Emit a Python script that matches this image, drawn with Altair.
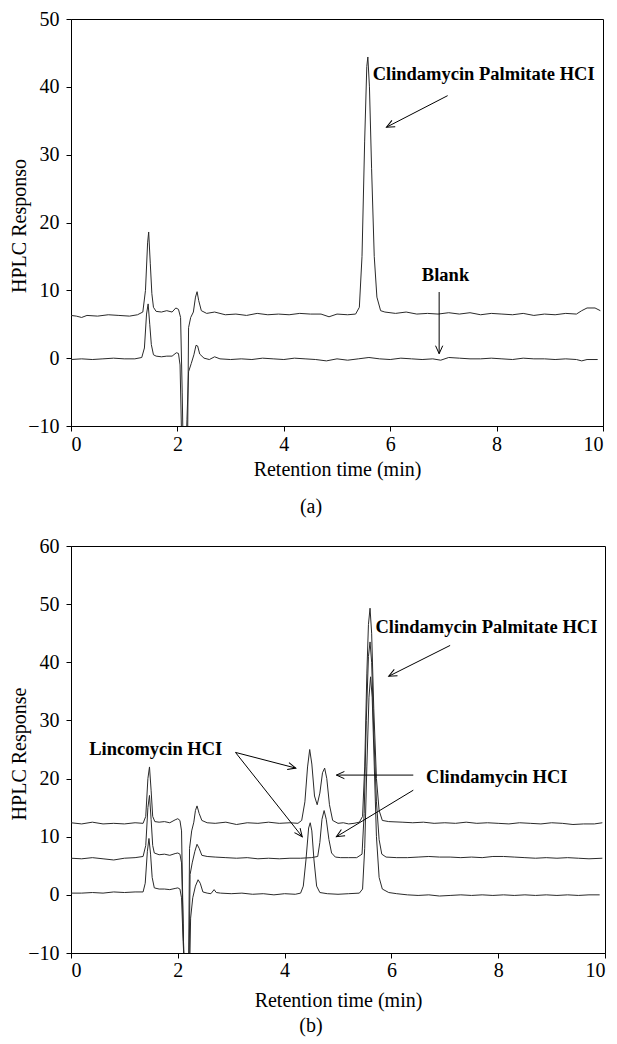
import math
import altair as alt
import pandas as pd

# ---------------- Panel (a) data ----------------
a_sample_x = [0.0, 0.1, 0.2, 0.3, 0.5, 0.7, 0.9, 1.1, 1.25, 1.35, 1.40, 1.44, 1.46, 1.49, 1.52, 1.55, 1.6, 1.7, 1.8, 1.9,
              1.97, 2.02, 2.06, 2.09, 2.11, 2.19, 2.21, 2.25, 2.30, 2.34, 2.37, 2.40, 2.45, 2.55, 2.7, 2.9, 3.1, 3.3, 3.5,
              3.7, 3.9, 4.1, 4.3, 4.5, 4.7, 4.85, 5.0, 5.2, 5.35, 5.42, 5.47, 5.52, 5.56, 5.58, 5.61, 5.65, 5.70, 5.75,
              5.82, 5.9, 6.1, 6.3, 6.5, 6.7, 6.9, 7.1, 7.3, 7.5, 7.7, 7.9, 8.1, 8.3, 8.5, 8.7, 8.9, 9.1, 9.3, 9.5, 9.6,
              9.7, 9.85, 9.95]
a_sample_y = [6.3, 6.2, 6.0, 6.3, 6.2, 6.4, 6.3, 6.2, 6.4, 6.8, 10.0, 17.0, 18.6, 14.0, 9.5, 7.5, 6.9, 6.8, 7.0, 6.8,
              7.4, 7.2, 6.0, -5.0, -14.0, -14.0, 4.5, 6.0, 6.8, 9.0, 9.8, 8.5, 7.0, 6.6, 6.8, 6.4, 6.5, 6.3, 6.6,
              6.4, 6.5, 6.4, 6.6, 6.5, 6.5, 6.1, 6.5, 6.4, 6.5, 7.5, 15.0, 32.0, 43.0, 44.4, 40.0, 28.0, 15.0, 9.0,
              7.0, 6.8, 6.6, 6.8, 6.5, 6.6, 6.5, 6.7, 6.5, 6.7, 6.4, 6.6, 6.5, 6.4, 6.6, 6.3, 6.5, 6.4, 6.6, 6.5, 7.0,
              7.4, 7.4, 7.0]

a_blank_x = [0.0, 0.2, 0.4, 0.6, 0.8, 1.0, 1.2, 1.33, 1.38, 1.42, 1.45, 1.48, 1.51, 1.55, 1.6, 1.7, 1.8, 1.9, 1.98,
             2.02, 2.05, 2.08, 2.16, 2.18, 2.21, 2.26, 2.31, 2.35, 2.38, 2.42, 2.5, 2.6, 2.7, 2.8, 3.0, 3.2, 3.4, 3.6,
             3.8, 4.0, 4.2, 4.4, 4.6, 4.8, 5.0, 5.2, 5.4, 5.6, 5.8, 6.0, 6.2, 6.4, 6.6, 6.8, 6.95, 7.1, 7.3, 7.5,
             7.7, 7.9, 8.1, 8.3, 8.5, 8.7, 8.9, 9.1, 9.3, 9.5, 9.6, 9.7, 9.9]
a_blank_y = [-0.2, -0.1, -0.2, -0.1, 0.0, -0.1, -0.1, 0.1, 1.5, 6.5, 8.0, 5.0, 2.0, 0.5, 0.3, 0.2, 0.3, 0.3, 0.8,
             0.7, -1.0, -12.0, -14.0, -9.0, -2.0, -0.8, 0.5, 1.9, 1.8, 0.6, 0.0, -0.2, 0.2, -0.1, -0.2, -0.1, -0.2, 0.0,
             -0.1, -0.2, 0.0, -0.1, -0.2, -0.4, -0.1, -0.3, -0.1, 0.1, -0.1, -0.2, 0.0, -0.1, -0.2, -0.1, -0.3, 0.1, 0.0, -0.1,
             -0.1, 0.0, -0.1, -0.2, 0.0, -0.1, -0.1, -0.2, -0.1, -0.2, -0.4, -0.2, -0.2]

a_labels = ["Clindamycin Palmitate HCI", "Blank"]
a_label_x = [5.67, 7.04]
a_label_y = [41.9, 12.2]
a_label_align = ["left", "center"]

a_arrow_x1 = [7.08, 6.92]
a_arrow_y1 = [38.7, 9.75]
a_arrow_x2 = [5.93, 6.92]
a_arrow_y2 = [34.05, 0.66]

# ---------------- Panel (b) data ----------------
b_mix_x = [0.0, 0.2, 0.4, 0.6, 0.8, 1.0, 1.2, 1.35, 1.40, 1.44, 1.47, 1.50, 1.53, 1.57, 1.65, 1.75, 1.85, 1.95, 2.0,
           2.04, 2.07, 2.10, 2.12, 2.20, 2.22, 2.26, 2.30, 2.33, 2.36, 2.40, 2.45, 2.55, 2.7, 2.9, 3.1, 3.3, 3.5, 3.7,
           3.9, 4.1, 4.25, 4.32, 4.38, 4.43, 4.47, 4.51, 4.56, 4.61, 4.66, 4.71, 4.75, 4.79, 4.84, 4.90, 5.0, 5.1,
           5.2, 5.3, 5.4, 5.46, 5.50, 5.54, 5.57, 5.60, 5.63, 5.67, 5.72, 5.77, 5.83, 5.95, 6.2, 6.4, 6.6, 6.8, 7.0,
           7.2, 7.4, 7.6, 7.8, 8.0, 8.2, 8.4, 8.6, 8.8, 9.0, 9.2, 9.4, 9.6, 9.8, 9.95]
b_mix_y = [12.4, 12.2, 12.5, 12.2, 12.3, 12.2, 12.4, 12.3, 13.5, 20.0, 22.0, 18.0, 13.5, 12.6, 12.5, 12.6, 12.4, 12.9, 13.1,
           12.8, 11.0, -5.0, -14.0, -14.0, 8.0, 11.0, 12.5, 14.5, 15.3, 14.0, 12.8, 12.4, 12.3, 12.5, 12.1, 12.4, 12.3, 12.5,
           12.3, 12.4, 12.3, 12.8, 16.0, 22.0, 25.0, 22.5, 17.0, 15.5, 17.5, 21.0, 21.8, 20.0, 15.5, 12.8, 12.3, 12.4,
           12.2, 12.3, 12.5, 13.5, 22.0, 38.0, 46.5, 49.3, 45.0, 32.0, 20.0, 14.5, 12.8, 12.6, 12.5, 12.4, 12.5, 12.3, 12.4,
           12.3, 12.5, 12.3, 12.4, 12.3, 12.2, 12.4, 12.3, 12.2, 12.4, 12.3, 12.1, 12.2, 12.2, 12.4]

b_clin_x = [0.0, 0.2, 0.4, 0.6, 0.8, 1.0, 1.2, 1.35, 1.40, 1.44, 1.47, 1.50, 1.53, 1.56, 1.65, 1.75, 1.85, 1.95, 2.0,
            2.04, 2.07, 2.10, 2.12, 2.21, 2.23, 2.27, 2.32, 2.36, 2.40, 2.45, 2.55, 2.7, 2.9, 3.1, 3.3, 3.5, 3.7, 3.9,
            4.1, 4.3, 4.5, 4.62, 4.66, 4.70, 4.74, 4.78, 4.83, 4.88, 4.95, 5.05, 5.2, 5.35, 5.45, 5.49, 5.53, 5.57,
            5.60, 5.63, 5.67, 5.72, 5.77, 5.82, 5.9, 6.1, 6.3, 6.5, 6.7, 6.9, 7.1, 7.3, 7.5, 7.7, 7.9, 8.1, 8.3, 8.5,
            8.7, 8.9, 9.1, 9.3, 9.5, 9.7, 9.95]
b_clin_y = [6.3, 6.2, 6.4, 6.2, 6.0, 6.3, 6.4, 6.6, 8.5, 15.0, 17.1, 13.0, 8.5, 7.2, 6.9, 7.0, 6.8, 7.1, 7.2,
            7.0, 5.5, -5.0, -14.0, -14.0, 3.5, 5.5, 7.5, 8.7, 8.0, 6.8, 6.6, 6.5, 6.4, 6.3, 6.4, 6.2, 6.3, 6.2,
            6.3, 6.3, 6.4, 6.6, 9.0, 13.0, 14.5, 13.0, 9.5, 7.2, 6.5, 6.4, 6.4, 6.4, 7.0, 14.0, 30.0, 41.0,
            43.5, 40.0, 28.0, 16.0, 9.5, 7.0, 6.5, 6.4, 6.4, 6.5, 6.6, 6.5, 6.5, 6.4, 6.5, 6.4, 6.6, 6.6, 6.5, 6.4,
            6.3, 6.4, 6.3, 6.4, 6.3, 6.2, 6.3]

b_linc_x = [0.0, 0.2, 0.4, 0.6, 0.8, 1.0, 1.2, 1.35, 1.39, 1.43, 1.46, 1.49, 1.52, 1.56, 1.65, 1.75, 1.85, 1.95, 2.0,
            2.04, 2.07, 2.10, 2.13, 2.22, 2.24, 2.28, 2.33, 2.38, 2.42, 2.47, 2.55, 2.62, 2.68, 2.72, 2.8, 3.0, 3.2,
            3.4, 3.6, 3.8, 4.0, 4.2, 4.3, 4.35, 4.40, 4.45, 4.48, 4.51, 4.55, 4.60, 4.66, 4.8, 5.0, 5.2, 5.4, 5.46,
            5.50, 5.54, 5.58, 5.61, 5.64, 5.68, 5.72, 5.77, 5.83, 5.95, 6.1, 6.3, 6.5, 6.7, 6.9, 7.1, 7.3, 7.5, 7.7,
            7.9, 8.1, 8.3, 8.5, 8.7, 8.9, 9.1, 9.3, 9.5, 9.7, 9.9]
b_linc_y = [0.3, 0.3, 0.4, 0.3, 0.5, 0.4, 0.5, 0.5, 2.0, 7.5, 9.7, 7.0, 3.0, 1.2, 1.0, 1.0, 0.9, 1.1, 1.2,
            1.0, -0.5, -8.0, -14.0, -14.0, -4.0, -0.5, 1.5, 2.6, 2.0, 0.5, 0.3, 0.2, 0.9, 0.4, 0.3, 0.2, 0.3,
            0.1, 0.2, 0.0, 0.2, 0.1, 0.3, 1.5, 6.0, 11.5, 12.4, 11.0, 6.0, 1.5, 0.4, 0.2, 0.1, 0.2, 0.3, 1.0,
            8.0, 22.0, 34.0, 37.5, 34.0, 22.0, 10.0, 3.0, 1.0, 0.4, 0.2, 0.0, -0.1, 0.0, -0.2, -0.1, 0.0, -0.1, 0.0,
            -0.1, 0.0, -0.1, 0.0, -0.1, 0.0, -0.1, 0.0, -0.1, 0.0, 0.0]

b_labels = ["Clindamycin Palmitate HCI", "Lincomycin HCI", "Clindamycin HCI"]
b_label_x = [5.70, 0.34, 6.65]
b_label_y = [46.1, 25.1, 20.2]
b_label_align = ["left", "left", "left"]

b_arrow_x1 = [7.10, 3.08, 3.08, 6.41, 6.41]
b_arrow_y1 = [42.9, 24.5, 24.5, 20.6, 18.0]
b_arrow_x2 = [5.95, 4.21, 4.33, 4.97, 4.97]
b_arrow_y2 = [37.6, 21.8, 10.0, 20.6, 10.0]

FONT = "Liberation Serif"
LINE = "#2a2a2a"
ARROW_PATH = "M-0.45,1 L0,0 L0.45,1"


def build_panel(traces, labels, lx, ly, lalign, ax1, ay1, ax2, ay2,
                ymax, width, height, ytitle, tag, tag_dx, tag_offset,
                ytitle_dy, x_label_pad, x_title_pad):
    xs = alt.Scale(domain=[0, 10], nice=False, zero=False)
    ys = alt.Scale(domain=[-10, ymax], nice=False, zero=False)
    xaxis = alt.Axis(title="Retention time (min)", values=[0, 2, 4, 6, 8, 10],
                     labelPadding=x_label_pad, titlePadding=x_title_pad)
    yaxis = alt.Axis(title=ytitle, values=list(range(-10, ymax + 1, 10)),
                     labelPadding=7, titleX=-46, titleY=height / 2 + ytitle_dy,
                     titleAlign="center", titleBaseline="alphabetic")

    rows = []
    for name, xv, yv in traces:
        for xx, yy in zip(xv, yv):
            rows.append({"series": name, "t": xx, "r": yy})
    df = pd.DataFrame(rows)

    lines = alt.Chart(df).mark_line(clip=True, strokeWidth=1, color=LINE).encode(
        x=alt.X("t:Q", scale=xs, axis=xaxis),
        y=alt.Y("r:Q", scale=ys, axis=yaxis),
        detail="series:N",
        order="t:Q",
    )

    # arrows
    ppx = width / 10.0
    ppy = height / float(ymax + 10)
    angles = []
    for x1, y1, x2, y2 in zip(ax1, ay1, ax2, ay2):
        dx = (x2 - x1) * ppx
        dy = -(y2 - y1) * ppy
        ang = math.degrees(math.atan2(dx, -dy)) % 360
        angles.append(ang)
    adf = pd.DataFrame({"x1": ax1, "y1": ay1, "x2": ax2, "y2": ay2, "ang": angles})

    shafts = alt.Chart(adf).mark_rule(color="black", strokeWidth=1).encode(
        x=alt.X("x1:Q", scale=xs, axis=xaxis),
        y=alt.Y("y1:Q", scale=ys, axis=yaxis),
        x2="x2:Q",
        y2="y2:Q",
    )
    heads = alt.Chart(adf).mark_point(shape=ARROW_PATH, filled=False, color="black",
                                      strokeWidth=1, size=256, opacity=1).encode(
        x=alt.X("x2:Q", scale=xs, axis=xaxis),
        y=alt.Y("y2:Q", scale=ys, axis=yaxis),
        angle=alt.Angle("ang:Q", scale=None),
    )

    tdf = pd.DataFrame({"x": lx, "y": ly, "txt": labels, "al": lalign})
    layers = [lines, shafts, heads]
    for al in sorted(set(lalign)):
        sub = tdf[tdf["al"] == al]
        layers.append(
            alt.Chart(sub).mark_text(font=FONT, fontSize=18.5, fontWeight="bold", align=al,
                                     baseline="middle", color="black").encode(
                x=alt.X("x:Q", scale=xs, axis=xaxis),
                y=alt.Y("y:Q", scale=ys, axis=yaxis),
                text="txt:N",
            )
        )

    return alt.layer(*layers).properties(
        width=width, height=height,
        title=alt.TitleParams(tag, orient="bottom", anchor="middle", font=FONT, fontSize=20,
                              fontWeight="normal", color="black", offset=tag_offset, dx=tag_dx),
    )


panel_a = build_panel(
    [("sample", a_sample_x, a_sample_y), ("blank", a_blank_x, a_blank_y)],
    a_labels, a_label_x, a_label_y, a_label_align,
    a_arrow_x1, a_arrow_y1, a_arrow_x2, a_arrow_y2,
    50, 532, 407, "HPLC Responso", "(a)", -26, 18, 3, 3, 5,
)
panel_b = build_panel(
    [("mix", b_mix_x, b_mix_y), ("clin", b_clin_x, b_clin_y), ("linc", b_linc_x, b_linc_y)],
    b_labels, b_label_x, b_label_y, b_label_align,
    b_arrow_x1, b_arrow_y1, b_arrow_x2, b_arrow_y2,
    60, 534, 407, "HPLC Response", "(b)", -27, 6, 4, 2, 10,
)

chart = alt.vconcat(panel_a, panel_b, spacing=17).properties(
    padding={"left": 0, "top": 0, "right": 0, "bottom": 0},
    background="white",
).configure_view(
    stroke="black", strokeWidth=1
).configure_axis(
    grid=False,
    labelFont=FONT, labelFontSize=20, labelColor="black",
    titleFont=FONT, titleFontSize=20, titleFontWeight="normal", titleColor="black",
    domainColor="black", tickColor="black", tickSize=5,
)

chart.save("out.html", embed_options={"renderer": "svg", "actions": False})
